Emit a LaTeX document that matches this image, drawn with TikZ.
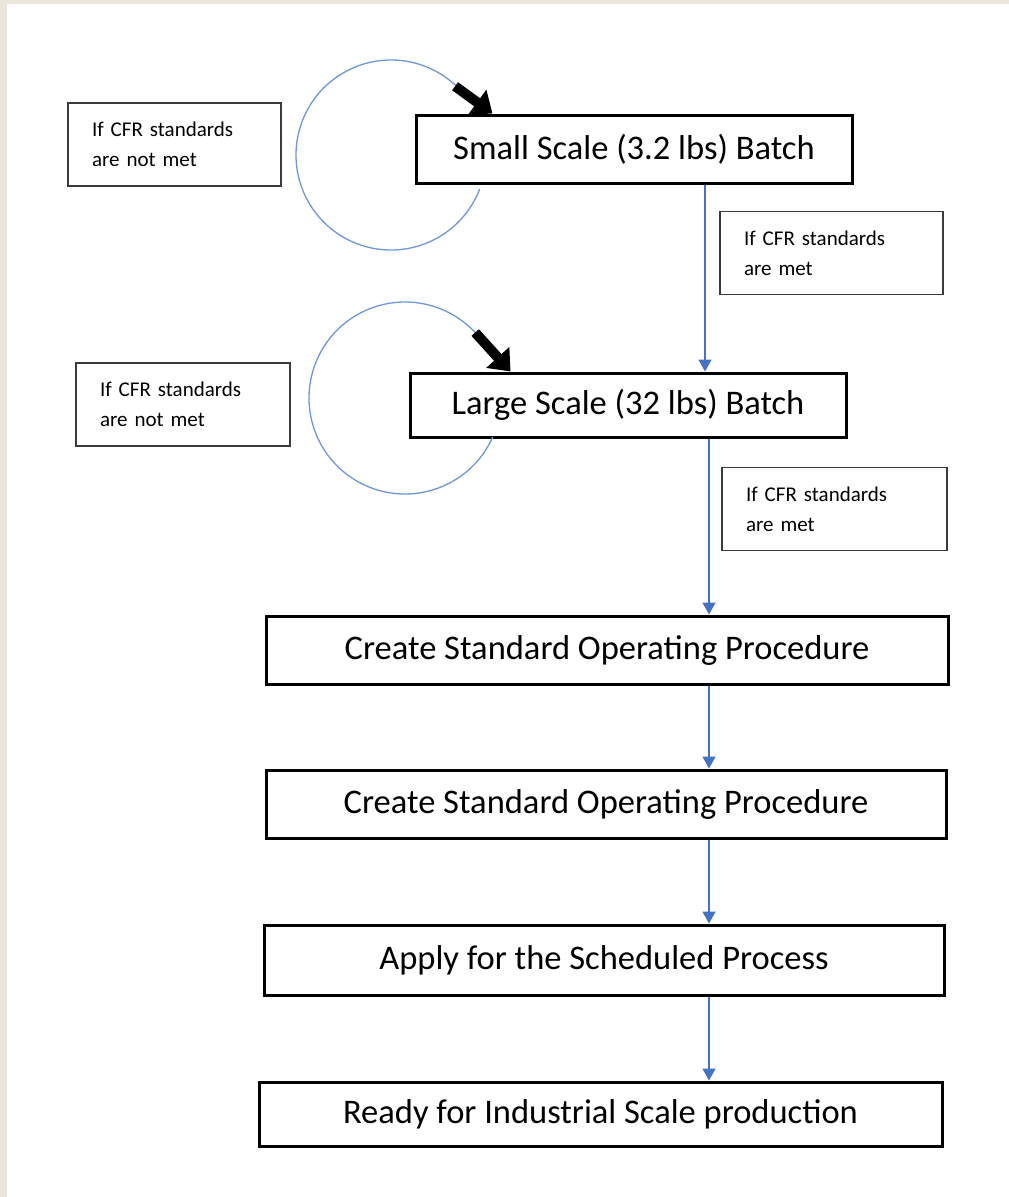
\documentclass[tikz,border=0pt]{standalone}
\usepackage{fontspec}
\setmainfont{Carlito}
\usetikzlibrary{arrows.meta,calc}
\definecolor{Frame}{HTML}{EAE6DC}
\definecolor{FlowBlue}{HTML}{4472C4}
\definecolor{LoopBlue}{HTML}{6E97DA}
\definecolor{NoteEdge}{HTML}{3A3A3A}

\begin{document}
\begin{tikzpicture}[x=1pt,y=-1pt,
  stage/.style={draw=black,line width=3pt,inner sep=0pt,font=\fontsize{34.5}{40}\selectfont},
  note/.style={draw=NoteEdge,line width=1.4pt,inner xsep=24pt,inner ysep=0pt,text width=165pt,align=left,minimum height=83pt,font=\fontsize{21}{30}\selectfont},
  flow/.style={-{Triangle[length=12pt,width=13pt]},line width=1.6pt,draw=FlowBlue},
  cycle/.style={line width=1.3pt,draw=LoopBlue},
  retry/.style={-{Triangle[length=19pt,width=30pt]},line width=10pt,draw=black}
]
\useasboundingbox (0,0) rectangle (1009,1197);
\fill[Frame] (0,0) rectangle (1009,4);
\fill[Frame] (0,0) rectangle (7,1197);

% process stages
\node[stage,minimum width=436pt,minimum height=68pt] (small) at (634,149) {Small Scale (3.2 lbs) Batch};
\node[stage,minimum width=436pt,minimum height=64pt] (large) at (628,405) {Large Scale (32 lbs) Batch};
\node[stage,minimum width=682pt,minimum height=68pt] (sop1) at (607,650) {Create Standard Operating Procedure};
\node[stage,minimum width=680pt,minimum height=68pt] (sop2) at (606,804) {Create Standard Operating Procedure};
\node[stage,minimum width=680pt,minimum height=70pt] (apply) at (604,960) {Apply for the Scheduled Process};
\node[stage,minimum width=683pt,minimum height=64pt] (ready) at (600.5,1114) {Ready for Industrial Scale production};

% conditions
\node[note] (fail1) at (174.5,144.5) {If CFR standards\\are not met};
\node[note,text width=175pt] (pass1) at (831.5,253) {If CFR standards\\are met};
\node[note,text width=166pt] (fail2) at (183,404.5) {If CFR standards\\are not met};
\node[note,text width=177pt] (pass2) at (834.5,509) {If CFR standards\\are met};

% forward flow
\coordinate (spine1) at (705,0);
\coordinate (spine2) at (709,0);
\draw[flow] (small.south -| spine1) -- (large.north -| spine1);
\draw[flow] (large.south -| spine2) -- (sop1.north -| spine2);
\draw[flow] (sop1.south -| spine2) -- (sop2.north -| spine2);
\draw[flow] (sop2.south -| spine2) -- (apply.north -| spine2);
\draw[flow] (apply.south -| spine2) -- (ready.north -| spine2);

% repeat loops
\coordinate (hub1) at (391,155);
\coordinate (hub2) at (405,398);
\draw[cycle] ($(hub1)+(21:95)$) arc[start angle=21,end angle=318,radius=95];
\draw[retry] ($(hub1)+(-47:94)$) -- ([xshift=78pt]small.north west);
\draw[cycle] ($(hub2)+(24:96)$) arc[start angle=24,end angle=320,radius=96];
\draw[retry] ($(hub2)+(-43:96)$) -- ([xshift=102pt]large.north west);
\end{tikzpicture}
\end{document}
